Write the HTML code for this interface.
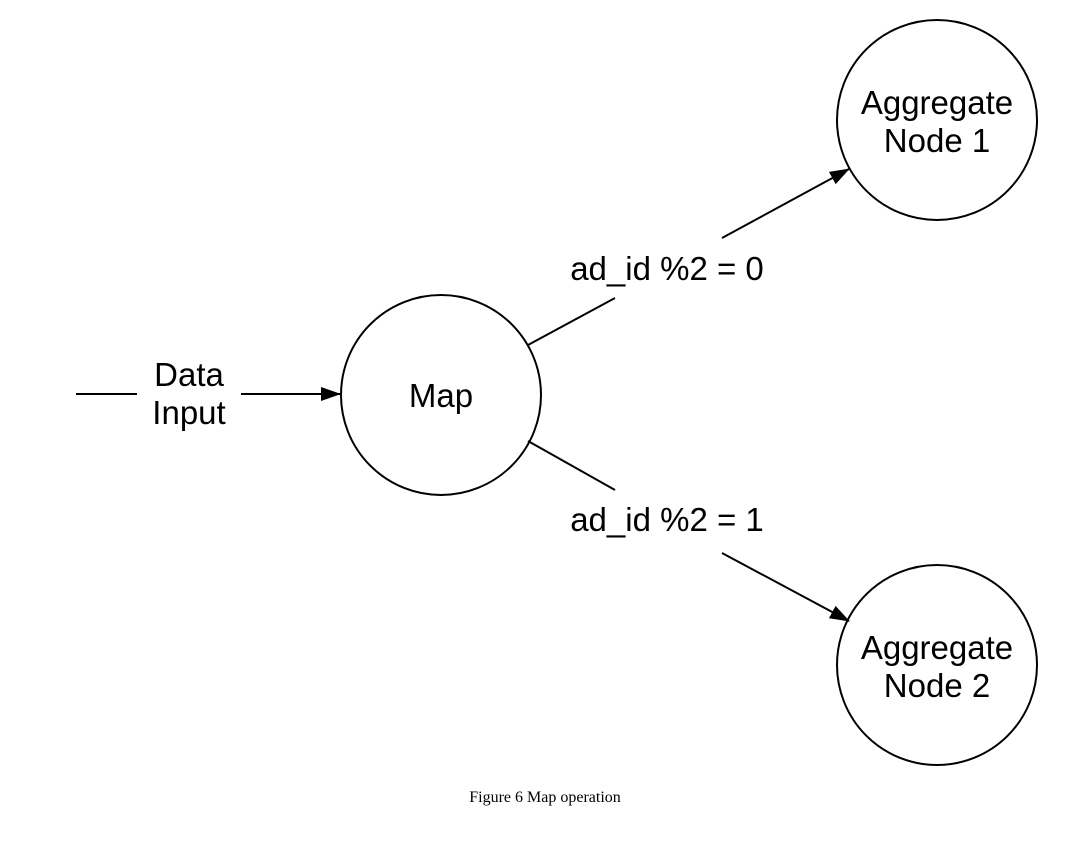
<!DOCTYPE html>
<html><head><meta charset="utf-8"><style>
html,body{margin:0;padding:0;background:#fff;}
svg{display:block;}
text{font-family:"Liberation Sans",Arial,sans-serif;fill:#000;}
</style></head><body>
<svg width="1088" height="841" viewBox="0 0 1088 841" xmlns="http://www.w3.org/2000/svg">
<defs>
<marker id="b" markerWidth="20" markerHeight="14" refX="19" refY="7" orient="auto" markerUnits="userSpaceOnUse" viewBox="0 0 20 14">
<path d="M0,0 L20,7 L0,14 Z" fill="#000"/>
</marker>
</defs>
<g fill="none" stroke="#000" stroke-width="2">
<circle cx="441" cy="395" r="100"/>
<circle cx="937" cy="120" r="100"/>
<circle cx="937" cy="665" r="100"/>
<line x1="76" y1="394" x2="137" y2="394"/>
<line x1="241" y1="394" x2="340" y2="394" marker-end="url(#b)"/>
<line x1="528" y1="345" x2="615" y2="298"/>
<line x1="722" y1="238" x2="849" y2="169" marker-end="url(#b)"/>
<line x1="528" y1="441" x2="615" y2="490"/>
<line x1="722" y1="553" x2="849" y2="621" marker-end="url(#b)"/>
</g>
<g font-size="33" text-anchor="middle">
<text x="189" y="386">Data</text>
<text x="189" y="424">Input</text>
<text x="441" y="407">Map</text>
<text x="667" y="280">ad_id %2 = 0</text>
<text x="667" y="531">ad_id %2 = 1</text>
<text x="937" y="114">Aggregate</text>
<text x="937" y="152">Node 1</text>
<text x="937" y="659">Aggregate</text>
<text x="937" y="697">Node 2</text>
</g>
<text x="545" y="802" text-anchor="middle" font-size="16" style="font-family:'Liberation Serif',serif">Figure 6 Map operation</text>
</svg>
</body></html>
